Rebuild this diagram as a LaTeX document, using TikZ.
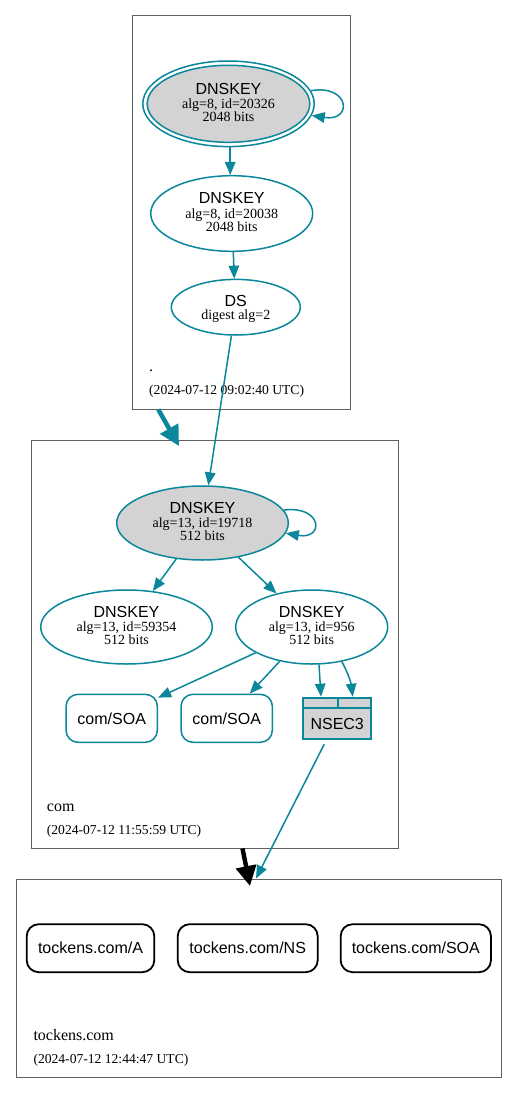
\documentclass[tikz,border=0pt]{standalone}
\usepackage{fontspec}
\setmainfont{Liberation Serif}
\newfontfamily\hv{Liberation Sans}
\usetikzlibrary{arrows.meta,shapes.geometric,calc}
\definecolor{tealc}{RGB}{10,135,154}
\definecolor{lgray}{RGB}{211,211,211}
\definecolor{cgray}{RGB}{95,95,95}
\newcommand\keylines[4]{%
  \node[sansL] (#1a) at ($(#1)+(0,-9.5)$) {#2};
  \node[serS] (#1b) at ($(#1)+(0,4.5)$) {#3};
  \node[serS] (#1c) at ($(#1)+(0,17.5)$) {#4};
}
\begin{document}
\begin{tikzpicture}[x=1pt,y=-1pt,
  cluster/.style={draw=cgray, line width=1pt, inner sep=0pt, outer sep=0pt},
  keyell/.style={ellipse, draw=tealc, line width=1.5pt, inner sep=0pt},
  sansL/.style={font=\hv\fontsize{16}{19}\selectfont, anchor=base, inner sep=0pt},
  serS/.style={font=\fontsize{14}{17}\selectfont, anchor=base, inner sep=0pt},
  clab/.style={font=\fontsize{16}{19}\selectfont, anchor=base west, inner sep=0pt},
  cdate/.style={font=\fontsize{13.6}{16}\selectfont, anchor=base west, inner sep=0pt},
  rrbox/.style={rectangle, rounded corners=12pt, minimum height=48pt, inner sep=0pt,
     font=\hv\fontsize{16}{19}\selectfont, text height=11.5pt, text depth=0pt},
  tealbox/.style={rrbox, draw=tealc, line width=1.5pt},
  blackbox/.style={rrbox, draw=black, line width=1.8pt},
  edge/.style={draw=tealc, line width=1.5pt, -{Triangle[length=13pt,width=10.5pt]}},
  bigtip/.style={line width=4.5pt, -{Triangle[length=20pt,width=20pt]}}
]
\useasboundingbox[fill=white] (0,0) rectangle (517,1094);

% clusters
\node[cluster, minimum width=218pt, minimum height=393pt] (croot) at (241,212.5) {};
\node[cluster, minimum width=367pt, minimum height=408pt] (ccom) at (214.5,644) {};
\node[cluster, minimum width=485pt, minimum height=198.7pt] (ctok) at (258.5,978.6) {};

% root zone
\node[keyell, minimum width=171.4pt, minimum height=85.6pt] (k1) at (228.5,103.8) {};
\node[keyell, fill=lgray, minimum width=162.6pt, minimum height=77pt] (k1in) at (228.5,103.8) {};
\keylines{k1}{DNSKEY}{alg=8, id=20326}{2048 bits}
\node[keyell, minimum width=162pt, minimum height=75.6pt] (k2) at (231.7,213.5) {};
\keylines{k2}{DNSKEY}{alg=8, id=20038}{2048 bits}
\node[keyell, minimum width=129pt, minimum height=55.6pt] (ds) at (235.8,307.2) {};
\node[sansL] (dsa) at ($(ds)+(0,-0.5)$) {DS};
\node[serS] (dsb) at ($(ds)+(0,12.3)$) {digest alg=2};
\node[clab] (lroot) at (149,371.7) {.};
\node[cdate] (droot) at (149,394.2) {(2024-07-12 09:02:40 UTC)};

% com zone
\node[keyell, fill=lgray, minimum width=171.6pt, minimum height=74pt] (k3) at (202.5,523) {};
\keylines{k3}{DNSKEY}{alg=13, id=19718}{512 bits}
\node[keyell, minimum width=171.6pt, minimum height=74pt] (k4) at (126.5,627) {};
\keylines{k4}{DNSKEY}{alg=13, id=59354}{512 bits}
\node[keyell, minimum width=152pt, minimum height=74pt] (k5) at (311.7,627) {};
\keylines{k5}{DNSKEY}{alg=13, id=956}{512 bits}
\node[tealbox, minimum width=91.3pt] (soa1) at (111.7,718.3) {com/SOA};
\node[tealbox, minimum width=91.3pt] (soa2) at (226.7,718.3) {com/SOA};
\node[rectangle, draw=tealc, fill=lgray, line width=2pt, minimum width=67.5pt, minimum height=41.6pt, inner sep=0pt] (nsec3) at (337.2,718.5) {};
\draw[tealc, line width=1.8pt] ($(nsec3.north west)+(0,11.6)$) -- ($(nsec3.north east)+(0,11.6)$);
\draw[tealc, line width=1.8pt] ($(nsec3.north)+(0.5,0)$) -- ($(nsec3.north)+(0.5,11.6)$);
\node[sansL] (nsec3t) at (337.2,729.2) {NSEC3};
\node[clab] (lcom) at (46.7,811.7) {com};
\node[cdate] (dcom) at (46.7,834) {(2024-07-12 11:55:59 UTC)};

% tockens.com zone
\node[blackbox, minimum width=127.6pt] (ta) at (90.5,948.2) {tockens.com/A};
\node[blackbox, minimum width=140pt] (tns) at (247.7,948.2) {tockens.com/NS};
\node[blackbox, minimum width=150.3pt] (tsoa) at (415.8,948.2) {tockens.com/SOA};
\node[clab] (ltok) at (33.3,1040.7) {tockens.com};
\node[cdate] (dtok) at (33.3,1063) {(2024-07-12 12:44:47 UTC)};

% edges
\draw[edge] (k1.9) .. controls (350,84) and (353,122) .. (k1.-8);
\draw[edge] ([xshift=1.7pt]k1.south) -- ([xshift=-1.5pt]k2.north);
\draw[edge] ([xshift=1.6pt]k2.south) -- ([xshift=-1.5pt]ds.north);
\draw[edge] (ds) -- (k3);
\draw[edge] (k3.9) .. controls (322,505) and (325,540) .. (k3.-7);
\draw[edge] (k3) -- (k4);
\draw[edge] (k3) -- (k5);
\draw[edge] (k5) -- (soa1.24);
\draw[edge] (k5) -- (soa2);
\draw[edge] (k5.-79) -- ([xshift=-16.2pt]nsec3.north);
\draw[edge] (k5.-49) to[out=-62,in=97] ([xshift=15.5pt]nsec3.north);
\coordinate (tin) at (256,878.5);
\draw[edge] ([xshift=-13pt,yshift=-4pt]nsec3.south) -- (tin);

% delegation arrows
\coordinate (a1) at (158.3,409.5);
\coordinate (a2) at (179,446);
\draw[bigtip, tealc] (a1) -- (a2);
\coordinate (b1) at (242.5,848.5);
\coordinate (b2) at (250,886);
\draw[bigtip, black] (b1) -- (b2);
\end{tikzpicture}
\end{document}
